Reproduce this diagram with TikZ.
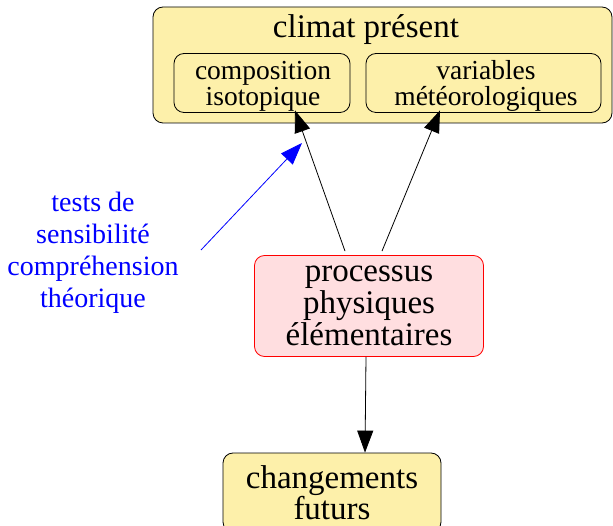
\documentclass[tikz,border=0pt]{standalone}
\usepackage{fontspec}
\setmainfont{Liberation Serif}
\usetikzlibrary{arrows.meta}
\definecolor{boxyellow}{HTML}{FDF0AA}
\definecolor{boxpink}{HTML}{FFDEE0}
\definecolor{boxred}{HTML}{FF0000}
\definecolor{textblue}{HTML}{0000FF}
\begin{document}
\begin{tikzpicture}[x=1pt,y=-1pt,
  ybox/.style={draw=black, line width=0.8pt, rounded corners=10pt, fill=boxyellow, inner sep=0pt, align=center},
  inbox/.style={draw=black, line width=0.8pt, rounded corners=10pt, inner sep=0pt},
  intext/.style={inner sep=0pt, align=center, font=\fontsize{27.5}{26}\selectfont},
  pbox/.style={draw=boxred, line width=0.8pt, rounded corners=10pt, fill=boxpink, inner sep=0pt, align=center, font=\fontsize{33}{32}\selectfont},
  bigtext/.style={font=\fontsize{33}{32}\selectfont, inner sep=0pt},
  bluetext/.style={font=\fontsize{28}{32}\selectfont, text=textblue, align=center, inner sep=0pt},
  arr/.style={draw=black, line width=0.8pt, -{Triangle[length=22pt,width=16pt]}},
  barr/.style={draw=textblue, line width=0.8pt, -{Triangle[length=22pt,width=16pt]}}]
\useasboundingbox (0,0) rectangle (613,526);
% outer box
\node[ybox, minimum width=459pt, minimum height=116pt] (climat) at (382.5,65) {};
\node[bigtext, anchor=base] (title) at (366,38) {climat présent};
\node[inbox, minimum width=176pt, minimum height=59pt] (comp) at (262,83) {};
\node[intext] (comptext) at (263,86) {composition\\isotopique};
\node[inbox, minimum width=235pt, minimum height=59pt] (var) at (483.5,83) {};
\node[intext] (vartext) at (486,86) {variables\\météorologiques};
% processus
\node[pbox, minimum width=229pt, minimum height=101pt] (proc) at (369,306) {processus\\physiques\\élémentaires};
% changements
\node[ybox, font=\fontsize{33}{31}\selectfont, minimum width=218pt, minimum height=79pt] (chg) at (332,492.5) {changements\\futurs};
% blue text
\node[bluetext] (tests) at (93,253) {tests de\\sensibilité\\compréhension\\théorique};
\coordinate (bstart) at (201,250);
\coordinate (bend) at (302,143);
% arrows
\draw[arr] ([xshift=-24pt,yshift=4pt]proc.north) -- ([xshift=33pt,yshift=2.5pt]comp.south);
\draw[arr] ([xshift=13pt,yshift=4pt]proc.north) -- ([xshift=-43.5pt,yshift=2.5pt]var.south);
\draw[arr] ([xshift=-3pt]proc.south) -- ([xshift=33pt]chg.north);
\draw[barr] (bstart) -- (bend);
\end{tikzpicture}
\end{document}
